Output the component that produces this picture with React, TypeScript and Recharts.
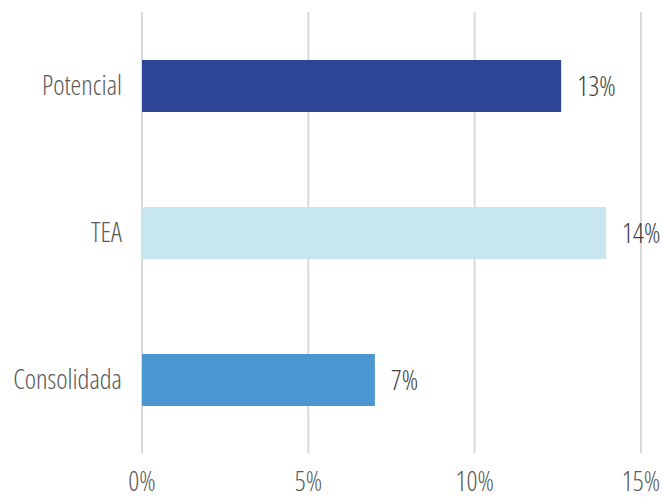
import { BarChart, Bar, XAxis, YAxis, CartesianGrid, Cell, LabelList } from 'recharts'

const categories = ['Potencial', 'TEA', 'Consolidada']
const values = [12.6, 13.95, 7.0]
const labels = ['13%', '14%', '7%']
const COLORS = ['#2E4595', '#C8E6F0', '#4B97D2']
const xTicks = [0, 5, 10, 15]

const data = categories.map((name, i) => ({ name, value: values[i], label: labels[i] }))

const FONT = '"Open Sans", sans-serif'
const textStyle = { fontFamily: FONT, fontStretch: '75%', fontWeight: 300 }

export default function App() {
  return (
    <div style={{ width: 662, height: 500, background: '#fff' }}>
      <style>{'body{margin:0}'}</style>
      <BarChart
        width={662}
        height={500}
        data={data}
        layout="vertical"
        margin={{ top: 12, right: 21, bottom: 0, left: 0 }}
      >
        <CartesianGrid horizontal={false} stroke="#D9D9D9" strokeWidth={2} />
        <XAxis
          type="number"
          domain={[0, 15]}
          ticks={xTicks}
          tickFormatter={(v) => `${v}%`}
          axisLine={false}
          tickLine={false}
          tickSize={0}
          tickMargin={19}
          height={47}
          tick={{ fill: '#595959', fontSize: 27, ...textStyle }}
        />
        <YAxis
          type="category"
          dataKey="name"
          width={142}
          axisLine={false}
          tickLine={false}
          tickSize={0}
          tickMargin={20}
          tick={{ fill: '#595959', fontSize: 27, ...textStyle }}
        />
        <Bar dataKey="value" barSize={52} isAnimationActive={false}>
          {data.map((_, i) => <Cell key={i} fill={COLORS[i]} />)}
          <LabelList
            dataKey="label"
            position="right"
            offset={16}
            style={{ fill: '#404040', fontSize: 27, ...textStyle }}
          />
        </Bar>
      </BarChart>
    </div>
  )
}
